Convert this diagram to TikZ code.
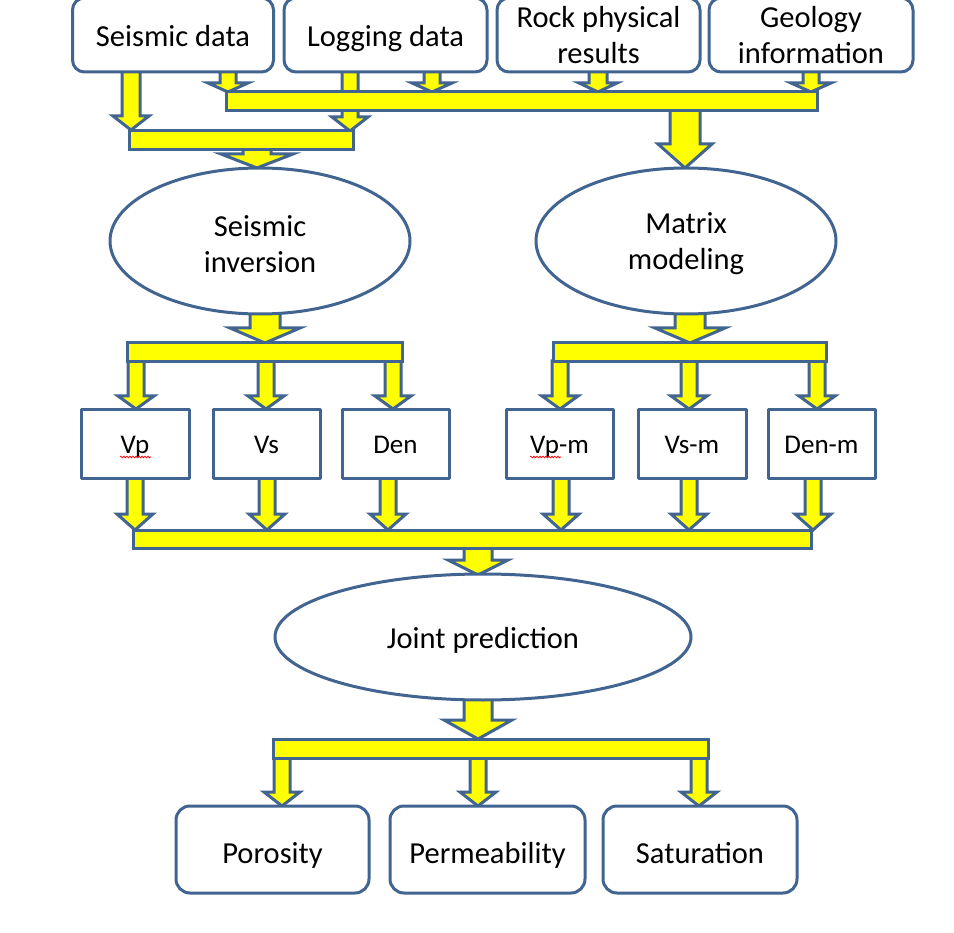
\documentclass[tikz,border=0pt]{standalone}
\usepackage{fontspec}
\setmainfont{Carlito}
\usetikzlibrary{shapes.geometric,decorations.pathmorphing}
\definecolor{edge}{RGB}{65,100,145}
\definecolor{yel}{RGB}{255,255,0}
\tikzset{
  outl/.style={draw=edge,line width=3pt,line join=round},
  topbox/.style={outl,rounded corners=12pt,fill=white,inner sep=0pt,align=center,
     minimum height=74pt,font=\fontsize{30.5}{36}\selectfont},
  oneline/.style={text height=23pt,text depth=0pt},
  ovalbox/.style={outl,ellipse,fill=white,inner sep=0pt,align=center,
     font=\fontsize{30.5}{36}\selectfont},
  smallbox/.style={outl,rectangle,fill=white,inner sep=0pt,minimum height=68pt,
     text height=19pt,text depth=0pt,font=\fontsize{27}{32}\selectfont},
  botbox/.style={outl,rounded corners=14pt,fill=white,inner sep=0pt,minimum height=87pt,
     text height=27pt,text depth=0pt,font=\fontsize{30.5}{36}\selectfont},
  barbox/.style={outl,fill=yel,line join=miter,inner sep=0pt},
  blk/.style={outl,fill=yel,line join=miter},
  squig/.style={red,line width=0.7pt,decorate,decoration={snake,segment length=3pt,amplitude=0.9pt}}
}
% x, top y, tip y, shaft half width, head half width, head length
\newcommand\blkarrow[6]{%
  \draw[blk] ({#1-#4},#2) -- ({#1+#4},#2) -- ({#1+#4},{#3-#6}) -- ({#1+#5},{#3-#6})
    -- (#1,#3) -- ({#1-#5},{#3-#6}) -- ({#1-#4},{#3-#6}) -- cycle;}
\newcommand\lowerstrut{\rule{0pt}{27pt}}
\begin{document}
\begin{tikzpicture}[x=1pt,y=-1pt]
\useasboundingbox (0,0) rectangle (954,933);
\clip (0,0) rectangle (954,933);
% ---- arrows (drawn first, under bars and boxes)
\blkarrow{131}{70}{130}{9}{18}{14}
\blkarrow{228}{70}{92}{8}{20}{9}
\blkarrow{350}{70}{131}{8}{18}{14}
\blkarrow{432}{70}{92}{8}{20}{9}
\blkarrow{598}{70}{92}{9}{19}{9}
\blkarrow{811}{70}{92}{8}{20}{9}
\blkarrow{257}{149}{168}{14}{36}{14}
\blkarrow{685}{110}{168}{15}{27}{24}
\blkarrow{265}{312}{343}{15}{35}{15}
\blkarrow{690}{312}{343}{15}{35}{15}
\foreach \x in {136,266,393,560,689,817}{\blkarrow{\x}{361}{409}{8}{18}{13}}
\foreach \x in {135,267,388,561,689,813}{\blkarrow{\x}{477}{530}{8}{18}{16}}
\blkarrow{478}{547}{575}{14}{30}{15}
\blkarrow{478}{699}{739}{14}{34}{19}
\foreach \x in {282,478,699}{\blkarrow{\x}{757}{806}{8}{18}{14}}
% ---- bars
\node[barbox,minimum width=591pt,minimum height=19pt] (ubar) at (521.5,101.5) {};
\node[barbox,minimum width=224pt,minimum height=19pt] (lbar) at (241,140.5) {};
\node[barbox,minimum width=275pt,minimum height=19pt] (sbar) at (264.5,352.5) {};
\node[barbox,minimum width=273pt,minimum height=19pt] (mbar) at (689.5,352.5) {};
\node[barbox,minimum width=678pt,minimum height=18pt] (cbar) at (472,539) {};
\node[barbox,minimum width=435pt,minimum height=19pt] (jbar) at (490.5,748.5) {};
% ---- top boxes
\node[topbox,oneline,minimum width=201pt] (sd) at (173,35) {Seismic data};
\node[topbox,oneline,minimum width=203pt] (ld) at (385.5,35) {Logging data};
\node[topbox,minimum width=203pt] (rp) at (598.5,35) {Rock physical\\results};
\node[topbox,minimum width=204pt] (gi) at (811,35) {Geology\\information};
% ---- ellipses
\node[ovalbox,minimum width=300pt,minimum height=146pt] (si) at (260,241) {\lowerstrut Seismic\\inversion};
\node[ovalbox,minimum width=300pt,minimum height=146pt] (mm) at (686,241) {\lowerstrut Matrix\\modeling};
\node[ovalbox,oneline,minimum width=416pt,minimum height=126pt] (jp) at (483,637) {Joint prediction};
% ---- small boxes
\node[smallbox,minimum width=108pt] (vp) at (135,444) {Vp};
\node[smallbox,minimum width=107pt] (vs) at (266.5,444) {Vs};
\node[smallbox,minimum width=107pt] (den) at (395.5,444) {Den};
\node[smallbox,minimum width=107pt] (vpm) at (559.5,444) {Vp-m};
\node[smallbox,minimum width=108pt] (vsm) at (692,444) {Vs-m};
\node[smallbox,minimum width=107pt] (denm) at (821.5,444) {Den-m};
\coordinate (sq1a) at (120,457); \coordinate (sq1b) at (151,457);
\coordinate (sq2a) at (530,457); \coordinate (sq2b) at (561,457);
\draw[squig] (sq1a) -- (sq1b);
\draw[squig] (sq2a) -- (sq2b);
% ---- bottom boxes
\node[botbox,minimum width=193pt] (por) at (272.5,849.5) {Porosity};
\node[botbox,minimum width=195pt] (perm) at (487.5,849.5) {Permeability};
\node[botbox,minimum width=194pt] (sat) at (700,849.5) {Saturation};
\end{tikzpicture}
\end{document}
